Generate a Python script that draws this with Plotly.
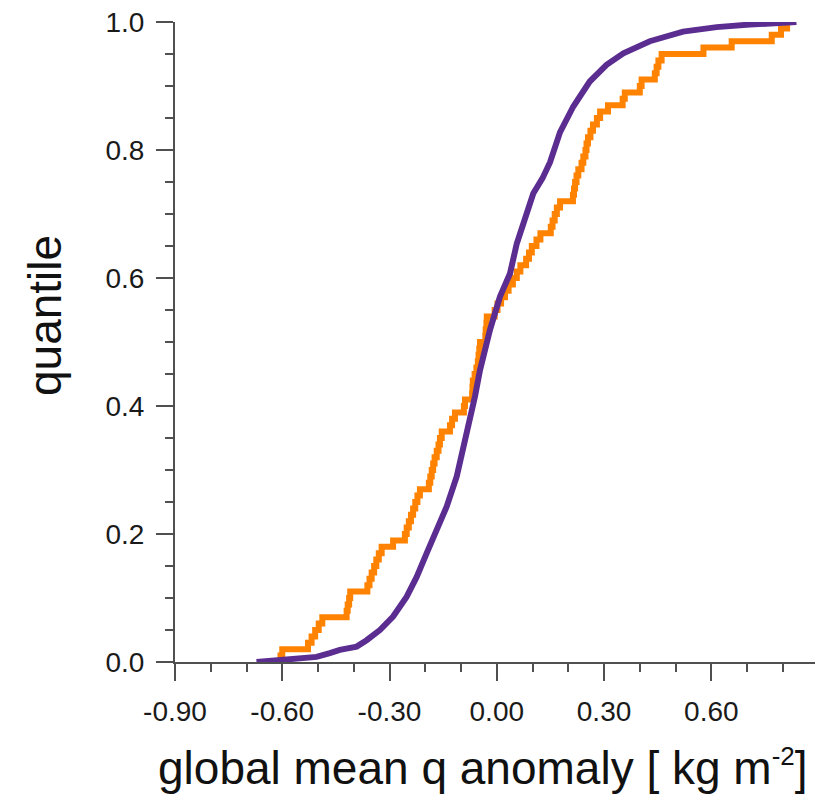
import plotly.graph_objects as go

# Orange: sorted sample anomalies (empirical CDF, 100 members)
orange_sorted = [
    -0.605, -0.600, -0.528, -0.518, -0.508, -0.498, -0.488, -0.420, -0.417, -0.413,
    -0.410, -0.362, -0.356, -0.350, -0.343, -0.337, -0.330, -0.322, -0.290, -0.257,
    -0.252, -0.246, -0.240, -0.234, -0.228, -0.222, -0.215, -0.190, -0.186, -0.182,
    -0.178, -0.174, -0.168, -0.163, -0.159, -0.154, -0.131, -0.125, -0.117, -0.092,
    -0.089, -0.069, -0.068, -0.067, -0.062, -0.057, -0.053, -0.051, -0.049, -0.047,
    -0.032, -0.031, -0.029, -0.028, -0.006, 0.002, 0.012, 0.023, 0.033, 0.045,
    0.056, 0.066, 0.082, 0.090, 0.098, 0.111, 0.122, 0.151, 0.156, 0.162,
    0.168, 0.177, 0.213, 0.216, 0.219, 0.223, 0.228, 0.237, 0.242, 0.248,
    0.251, 0.255, 0.262, 0.269, 0.280, 0.289, 0.311, 0.352, 0.358, 0.400,
    0.405, 0.442, 0.447, 0.452, 0.461, 0.578, 0.657, 0.769, 0.795, 0.812,
]

# Purple: smooth CDF
purple_x = [-0.672, -0.597, -0.504, -0.467, -0.439, -0.392, -0.364, -0.327, -0.290, -0.252,
            -0.224, -0.196, -0.168, -0.140, -0.112, -0.096, -0.075, -0.061, -0.047, -0.019,
            0.009, 0.037, 0.056, 0.074, 0.102, 0.128, 0.149, 0.177, 0.214, 0.260,
            0.307, 0.354, 0.428, 0.521, 0.615, 0.708, 0.801, 0.838]
purple_y = [0.000, 0.003, 0.008, 0.014, 0.019, 0.024, 0.034, 0.050, 0.071, 0.102,
            0.133, 0.170, 0.206, 0.243, 0.290, 0.328, 0.380, 0.415, 0.456, 0.519,
            0.571, 0.607, 0.654, 0.685, 0.732, 0.756, 0.781, 0.828, 0.868, 0.907,
            0.933, 0.951, 0.970, 0.985, 0.992, 0.996, 0.998, 1.000]

x_major = [-0.9, -0.6, -0.3, 0.0, 0.3, 0.6]
x_labels = ["-0.90", "-0.60", "-0.30", "0.00", "0.30", "0.60"]
y_major = [0.0, 0.2, 0.4, 0.6, 0.8, 1.0]
y_labels = ["0.0", "0.2", "0.4", "0.6", "0.8", "1.0"]

n = len(orange_sorted)
ox = [orange_sorted[0]] + orange_sorted
oy = [0.0] + [(i + 1) / n for i in range(n)]

FONT = "Liberation Sans, Arial, Helvetica, sans-serif"
AX = "#505050"

fig = go.Figure()
fig.add_trace(go.Scatter(x=ox, y=oy, mode="lines", line=dict(color="#FF8200", width=6, shape="hv"),
                         cliponaxis=False, showlegend=False))
fig.add_trace(go.Scatter(x=purple_x, y=purple_y, mode="lines", line=dict(color="#5C2D91", width=6),
                         cliponaxis=False, showlegend=False))

fig.update_layout(
    width=821, height=805,
    margin=dict(l=175, r=6, t=22, b=143),
    paper_bgcolor="white", plot_bgcolor="white",
    font=dict(family=FONT, color="#1a1a1a"),
    xaxis=dict(range=[-0.9, 0.89], tickvals=x_major, ticktext=x_labels,
               ticks="outside", ticklen=17, tickwidth=2, tickcolor=AX,
               showline=True, linecolor=AX, linewidth=2, showgrid=False, zeroline=False,
               tickfont=dict(size=28, color="#1a1a1a"), ticklabelstandoff=6,
               minor=dict(dtick=0.1, tick0=-0.9, ticks="outside", ticklen=8, tickwidth=2, tickcolor=AX, showgrid=False)),
    yaxis=dict(range=[0, 1], tickvals=y_major, ticktext=y_labels,
               ticks="outside", ticklen=17, tickwidth=2, tickcolor=AX,
               showline=True, linecolor=AX, linewidth=2, showgrid=False, zeroline=False,
               tickfont=dict(size=28, color="#1a1a1a"), ticklabelstandoff=6,
               minor=dict(dtick=0.05, tick0=0, ticks="outside", ticklen=8, tickwidth=2, tickcolor=AX, showgrid=False)),
)

fig.add_annotation(text="global mean q anomaly [ kg m<sup><span style='font-size:26px'>-2</span></sup>]",
                   xref="paper", yref="paper",
                   x=(483 - 175) / 640, y=-(796 - 662) / 640, xanchor="center", yanchor="bottom",
                   showarrow=False, font=dict(size=46, family=FONT, color="#111111"))
fig.add_annotation(text="quantile", xref="paper", yref="paper", textangle=-90,
                   x=-(175 - 45) / 640, y=(662 - 316) / 640, xanchor="center", yanchor="middle",
                   showarrow=False, font=dict(size=46, family=FONT, color="#111111"))

fig.write_html("out.html")
